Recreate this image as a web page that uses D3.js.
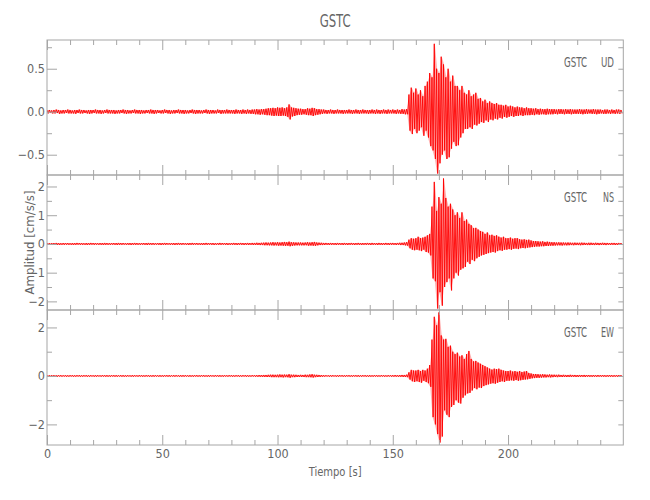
<!DOCTYPE html>
<html><head><meta charset="utf-8">
<script src="https://cdn.jsdelivr.net/npm/d3@7"></script>
<style>
body{margin:0;background:#fff}
text{font-family:'Liberation Sans Narrow','DejaVu Sans Condensed','Roboto Condensed','Liberation Sans',sans-serif;fill:#666}
</style>
</head><body>
<svg id="c" width="650" height="500"></svg>
<script>
// ---------------- data ----------------
const station = "GSTC";
const components = ["UD", "NS", "EW"];
const timeRange = [0, 250];
const dt = 1;                       // seconds per envelope bin
const xMajorTicks = [0, 50, 100, 150, 200];
const udRange = [-0.736, 0.834], nsRange = [-2.3, 2.4], ewRange = [-2.85, 2.72];
const udTicks = [-0.5, 0, 0.5], nsTicks = [-2, -1, 0, 1, 2], ewTicks = [-2, 0, 2];
const udMinorStep = 0.25, nsMinorStep = 0.5, ewMinorStep = 1;

// upper / lower peaks per 1-s bin
const udHi = [
.02,.02,.015,.02,.025,.02,.015,.02,.02,.025,
.02,.015,.02,.02,.025,.02,.02,.015,.02,.02,
.02,.025,.02,.02,.015,.02,.025,.02,.02,.02,
.015,.02,.02,.025,.02,.02,.015,.02,.025,.02,
.02,.02,.015,.02,.02,.025,.02,.02,.02,.015,
.02,.025,.02,.02,.015,.02,.02,.025,.02,.02,
.02,.015,.02,.025,.02,.02,.02,.015,.02,.025,
.02,.02,.02,.015,.025,.02,.02,.02,.025,.02,
.02,.02,.025,.02,.02,.025,.02,.025,.02,.025,
.025,.03,.025,.03,.03,.035,.04,.04,.045,.04,
.05,.045,.05,.04,.05,.085,.05,.045,.04,.035,
.035,.03,.03,.04,.035,.045,.04,.03,.03,.025,
.025,.02,.02,.025,.02,.02,.025,.02,.02,.02,
.02,.025,.02,.02,.025,.02,.02,.025,.02,.02,
.02,.025,.02,.025,.02,.02,.025,.02,.025,.02,
.025,.02,.025,.02,.03,.025,.03,.2,.28,.22,
.27,.2,.25,.18,.3,.35,.45,.4,.79,.5,
.45,.64,.55,.4,.5,.35,.42,.3,.3,.25,
.3,.22,.2,.25,.18,.2,.22,.15,.16,.12,
.14,.1,.12,.1,.09,.1,.08,.08,.07,.08,
.06,.07,.06,.05,.06,.05,.05,.04,.05,.04,
.04,.035,.04,.03,.035,.03,.03,.035,.03,.03,
.03,.025,.03,.03,.025,.03,.025,.03,.025,.025,
.025,.03,.025,.025,.03,.025,.025,.03,.025,.025,
.025,.02,.025,.025,.02,.025,.02,.025,.025,.02];
const udLo = [
-.02,-.015,-.02,-.02,-.015,-.025,-.02,-.02,-.015,-.02,
-.02,-.02,-.025,-.015,-.02,-.02,-.015,-.02,-.025,-.02,
-.015,-.02,-.02,-.025,-.02,-.015,-.02,-.02,-.02,-.025,
-.02,-.02,-.015,-.02,-.025,-.02,-.02,-.015,-.02,-.02,
-.025,-.02,-.02,-.015,-.02,-.02,-.025,-.02,-.015,-.02,
-.02,-.015,-.02,-.025,-.02,-.02,-.015,-.02,-.02,-.025,
-.02,-.02,-.015,-.02,-.025,-.02,-.02,-.02,-.015,-.02,
-.025,-.02,-.02,-.02,-.015,-.025,-.02,-.02,-.02,-.02,
-.02,-.025,-.02,-.02,-.025,-.02,-.025,-.02,-.025,-.025,
-.03,-.03,-.035,-.03,-.035,-.04,-.04,-.045,-.05,-.045,
-.05,-.05,-.045,-.05,-.06,-.09,-.055,-.05,-.04,-.035,
-.035,-.03,-.035,-.04,-.04,-.05,-.04,-.035,-.03,-.025,
-.02,-.025,-.02,-.02,-.025,-.02,-.02,-.02,-.025,-.02,
-.02,-.02,-.025,-.02,-.02,-.025,-.02,-.02,-.02,-.025,
-.02,-.02,-.025,-.02,-.025,-.02,-.02,-.025,-.02,-.02,
-.02,-.025,-.02,-.025,-.025,-.03,-.03,-.22,-.26,-.2,
-.25,-.22,-.18,-.28,-.22,-.3,-.4,-.45,-.55,-.72,
-.6,-.5,-.45,-.55,-.53,-.43,-.35,-.4,-.39,-.3,
-.25,-.2,-.2,-.18,-.2,-.15,-.16,-.14,-.12,-.13,
-.1,-.12,-.09,-.1,-.08,-.09,-.07,-.08,-.06,-.07,
-.06,-.05,-.06,-.05,-.05,-.04,-.05,-.04,-.04,-.04,
-.035,-.04,-.03,-.035,-.03,-.03,-.035,-.03,-.03,-.03,
-.025,-.03,-.025,-.025,-.03,-.025,-.025,-.03,-.025,-.025,
-.025,-.025,-.03,-.025,-.025,-.02,-.025,-.025,-.03,-.025,
-.02,-.025,-.025,-.02,-.025,-.02,-.025,-.02,-.025,-.02];
const nsHi = [
.03,.025,.03,.03,.035,.03,.025,.03,.03,.03,
.025,.03,.03,.035,.03,.03,.025,.03,.03,.035,
.03,.03,.025,.03,.03,.035,.03,.025,.03,.03,
.03,.035,.03,.03,.025,.03,.03,.03,.035,.03,
.025,.03,.03,.03,.035,.03,.03,.025,.03,.03,
.03,.035,.03,.025,.03,.03,.03,.035,.03,.03,
.025,.03,.03,.035,.03,.03,.025,.03,.03,.035,
.03,.03,.03,.025,.03,.035,.03,.03,.03,.025,
.03,.035,.03,.03,.035,.03,.03,.035,.03,.035,
.035,.04,.035,.04,.045,.05,.045,.05,.06,.05,
.06,.05,.06,.07,.06,.08,.06,.055,.05,.05,
.05,.045,.05,.06,.05,.06,.07,.05,.045,.04,
.035,.035,.03,.035,.03,.03,.035,.03,.03,.035,
.03,.03,.035,.03,.03,.035,.03,.03,.03,.035,
.03,.035,.03,.03,.035,.03,.03,.035,.03,.035,
.035,.03,.035,.04,.04,.05,.06,.15,.2,.18,
.2,.25,.2,.22,.25,.3,.35,1.3,2.16,1.15,
1.63,1.4,2.28,1.6,1.3,1.4,1.2,1.0,1.1,.9,
1.1,.8,.85,.7,.65,.55,.56,.5,.45,.42,
.35,.4,.3,.32,.28,.3,.25,.22,.25,.2,
.2,.22,.18,.2,.2,.16,.15,.16,.14,.15,
.12,.1,.1,.09,.08,.09,.07,.08,.07,.06,
.06,.05,.055,.05,.05,.045,.05,.045,.04,.045,
.04,.04,.045,.04,.035,.04,.04,.035,.04,.035,
.035,.04,.035,.035,.03,.035,.035,.03,.035,.03];
const nsLo = [
-.03,-.03,-.025,-.03,-.03,-.035,-.03,-.03,-.025,-.03,
-.03,-.035,-.03,-.025,-.03,-.03,-.03,-.035,-.03,-.025,
-.03,-.025,-.03,-.03,-.035,-.03,-.03,-.03,-.025,-.03,
-.035,-.03,-.03,-.025,-.03,-.03,-.035,-.03,-.03,-.03,
-.03,-.025,-.03,-.035,-.03,-.03,-.03,-.025,-.03,-.035,
-.03,-.03,-.025,-.03,-.03,-.035,-.03,-.03,-.03,-.025,
-.03,-.035,-.03,-.03,-.025,-.03,-.03,-.035,-.03,-.03,
-.025,-.03,-.035,-.03,-.03,-.03,-.025,-.03,-.035,-.03,
-.03,-.03,-.035,-.03,-.03,-.035,-.03,-.035,-.03,-.035,
-.035,-.035,-.04,-.04,-.045,-.045,-.05,-.05,-.055,-.05,
-.06,-.055,-.06,-.065,-.06,-.08,-.065,-.055,-.05,-.05,
-.05,-.05,-.045,-.06,-.055,-.06,-.065,-.05,-.04,-.04,
-.035,-.03,-.035,-.03,-.03,-.035,-.03,-.03,-.035,-.03,
-.035,-.03,-.03,-.035,-.03,-.03,-.035,-.03,-.03,-.03,
-.035,-.03,-.03,-.035,-.03,-.035,-.03,-.03,-.035,-.03,
-.03,-.035,-.03,-.04,-.04,-.05,-.06,-.15,-.2,-.22,
-.2,-.22,-.25,-.2,-.28,-.3,-.4,-1.2,-1.3,-2.25,
-1.68,-2.15,-1.5,-1.33,-1.2,-1.62,-1.2,-1.0,-1.1,-.9,
-.85,-.8,-.62,-.7,-.55,-.6,-.5,-.45,-.4,-.38,
-.35,-.32,-.3,-.28,-.3,-.25,-.22,-.24,-.2,-.2,
-.18,-.2,-.17,-.16,-.18,-.15,-.14,-.15,-.13,-.12,
-.11,-.1,-.09,-.09,-.08,-.08,-.07,-.07,-.06,-.06,
-.055,-.05,-.05,-.055,-.045,-.05,-.045,-.04,-.045,-.04,
-.04,-.045,-.04,-.035,-.04,-.04,-.035,-.04,-.035,-.04,
-.035,-.035,-.04,-.03,-.035,-.03,-.035,-.035,-.03,-.035];
const ewHi = [
.03,.025,.03,.03,.025,.03,.03,.025,.03,.025,
.03,.03,.025,.03,.03,.025,.03,.03,.025,.03,
.025,.03,.03,.025,.03,.03,.03,.025,.03,.03,
.03,.025,.03,.03,.025,.03,.025,.03,.03,.025,
.03,.03,.025,.03,.03,.025,.03,.03,.025,.03,
.025,.03,.03,.03,.025,.03,.03,.025,.03,.03,
.03,.025,.03,.025,.03,.03,.025,.03,.03,.025,
.03,.03,.025,.03,.03,.03,.025,.03,.025,.03,
.03,.025,.03,.03,.025,.03,.03,.03,.025,.03,
.03,.03,.035,.035,.04,.04,.045,.05,.05,.045,
.05,.06,.05,.055,.05,.07,.05,.05,.045,.04,
.045,.04,.05,.045,.06,.07,.05,.045,.04,.035,
.03,.03,.025,.03,.03,.025,.03,.03,.03,.025,
.03,.03,.025,.03,.03,.03,.025,.03,.03,.025,
.03,.025,.03,.03,.025,.03,.03,.025,.03,.03,
.03,.035,.03,.035,.04,.04,.05,.15,.25,.22,
.22,.25,.2,.25,.22,.3,.45,1.5,2.44,2.09,
2.62,1.67,1.5,1.53,1.2,1.25,1.0,.9,.96,.8,
.85,.7,.9,1.03,.7,.6,.62,.55,.5,.45,
.4,.35,.3,.26,.3,.28,.3,.25,.22,.2,
.2,.22,.18,.2,.17,.2,.16,.18,.2,.12,
.1,.08,.08,.07,.06,.07,.06,.05,.06,.05,
.05,.045,.05,.04,.045,.04,.04,.045,.04,.04,
.035,.04,.035,.04,.035,.035,.03,.035,.03,.035,
.03,.035,.03,.03,.035,.03,.03,.03,.035,.03];
const ewLo = [
-.03,-.03,-.025,-.03,-.03,-.025,-.03,-.025,-.03,-.03,
-.025,-.03,-.03,-.025,-.03,-.03,-.025,-.03,-.03,-.025,
-.03,-.03,-.025,-.03,-.025,-.03,-.03,-.03,-.025,-.03,
-.03,-.025,-.03,-.03,-.03,-.025,-.03,-.03,-.025,-.03,
-.025,-.03,-.03,-.025,-.03,-.03,-.03,-.025,-.03,-.03,
-.03,-.025,-.03,-.03,-.025,-.03,-.025,-.03,-.03,-.03,
-.025,-.03,-.03,-.03,-.025,-.03,-.03,-.025,-.03,-.03,
-.03,-.025,-.03,-.025,-.03,-.03,-.03,-.025,-.03,-.025,
-.03,-.03,-.025,-.03,-.03,-.025,-.03,-.03,-.03,-.025,
-.03,-.035,-.035,-.04,-.04,-.045,-.045,-.05,-.05,-.05,
-.055,-.05,-.06,-.05,-.055,-.075,-.05,-.05,-.045,-.045,
-.04,-.045,-.05,-.05,-.055,-.065,-.05,-.045,-.04,-.035,
-.03,-.025,-.03,-.03,-.025,-.03,-.03,-.025,-.03,-.03,
-.025,-.03,-.03,-.025,-.03,-.03,-.03,-.025,-.03,-.03,
-.03,-.03,-.025,-.03,-.03,-.025,-.03,-.03,-.025,-.03,
-.03,-.03,-.035,-.035,-.04,-.045,-.05,-.15,-.22,-.25,
-.22,-.25,-.28,-.2,-.25,-.3,-.45,-1.7,-2.0,-2.4,
-2.75,-2.5,-1.42,-1.6,-1.7,-1.28,-1.2,-1.0,-1.1,-1.14,
-.9,-.8,-.72,-.7,-.6,-.5,-.55,-.48,-.5,-.42,
-.38,-.35,-.32,-.3,-.32,-.28,-.25,-.22,-.25,-.2,
-.2,-.18,-.2,-.17,-.2,-.18,-.16,-.15,-.14,-.12,
-.1,-.09,-.08,-.08,-.07,-.06,-.06,-.05,-.06,-.05,
-.045,-.05,-.04,-.045,-.04,-.045,-.04,-.04,-.035,-.04,
-.04,-.035,-.035,-.04,-.03,-.035,-.035,-.03,-.035,-.03,
-.03,-.03,-.035,-.03,-.03,-.035,-.03,-.03,-.03,-.03];

// ---------------- drawing ----------------
const svg = d3.select("#c");
const pL = 47, pR = 623.3, pT = 40, ph = 135;
const frameColor = "#a6a6a6";
const x = d3.scaleLinear().domain(timeRange).range([pL, pR]);
const xMinor = d3.range(timeRange[0], timeRange[1] + 1, 10).filter(v => v % 50 !== 0);

const panels = [
  {comp: components[0], hi: udHi, lo: udLo, range: udRange, ticks: udTicks, step: udMinorStep, fmt: d3.format(".1f")},
  {comp: components[1], hi: nsHi, lo: nsLo, range: nsRange, ticks: nsTicks, step: nsMinorStep, fmt: d3.format("d")},
  {comp: components[2], hi: ewHi, lo: ewLo, range: ewRange, ticks: ewTicks, step: ewMinorStep, fmt: d3.format("d")}
];

function styleAxis(g) {
  g.select(".domain").remove();
  g.selectAll(".tick line").attr("stroke", frameColor).attr("stroke-width", 1);
  g.selectAll(".tick text").style("font-size", "12.5px").attr("fill", "#666");
}

panels.forEach((p, k) => {
  const y0 = pT + k * ph;
  const y = d3.scaleLinear().domain(p.range).range([y0 + ph, y0]);
  const id = "clip" + k;
  svg.append("clipPath").attr("id", id).append("rect")
    .attr("x", pL).attr("y", y0).attr("width", pR - pL).attr("height", ph);

  const g = svg.append("g").attr("clip-path", `url(#${id})`);
  // faint band between the peaks (dense oscillation look)
  const bins = p.hi.map((v, i) => ({t: i * dt, hi: v, lo: p.lo[i]}));
  g.append("path")
    .attr("d", d3.area().x(d => x(d.t + dt / 4)).y0(d => y(d.lo)).y1(d => y(d.hi))(bins))
    .attr("fill", "#ff0000").attr("fill-opacity", 0.3).attr("stroke", "none");
  // trace: alternate upper and lower peaks of each bin
  const pts = [];
  bins.forEach(b => { pts.push([b.t, b.hi]); pts.push([b.t + dt / 2, b.lo]); });
  g.append("path")
    .attr("d", d3.line().x(d => x(d[0])).y(d => y(d[1]))(pts))
    .attr("fill", "none").attr("stroke", "#ff0000").attr("stroke-width", 0.9);

  const lo = Math.ceil(p.range[0] / p.step) * p.step;
  const yMinor = d3.range(lo, p.range[1], p.step).filter(v => !p.ticks.some(t => Math.abs(t - v) < 1e-6));

  svg.append("g").attr("transform", `translate(${pL},0)`)
    .call(d3.axisLeft(y).tickValues(p.ticks).tickSize(-10).tickPadding(2).tickFormat(p.fmt)).call(styleAxis);
  svg.append("g").attr("transform", `translate(${pL},0)`)
    .call(d3.axisLeft(y).tickValues(yMinor).tickSize(-5).tickFormat("")).call(styleAxis);
  svg.append("g").attr("transform", `translate(${pR},0)`)
    .call(d3.axisRight(y).tickValues(p.ticks.concat(yMinor)).tickSize(-5).tickFormat("")).call(styleAxis);
  svg.append("g").attr("transform", `translate(0,${y0})`)
    .call(d3.axisTop(x).tickValues(xMajorTicks).tickSize(-10).tickFormat("")).call(styleAxis);
  svg.append("g").attr("transform", `translate(0,${y0})`)
    .call(d3.axisTop(x).tickValues(xMinor).tickSize(-5).tickFormat("")).call(styleAxis);
  const last = k === panels.length - 1;
  svg.append("g").attr("transform", `translate(0,${y0 + ph})`)
    .call(d3.axisBottom(x).tickValues(xMajorTicks).tickSize(-10).tickPadding(4).tickFormat(last ? d3.format("d") : "")).call(styleAxis);
  svg.append("g").attr("transform", `translate(0,${y0 + ph})`)
    .call(d3.axisBottom(x).tickValues(xMinor).tickSize(-5).tickFormat("")).call(styleAxis);

  svg.append("rect").attr("x", pL).attr("y", y0).attr("width", pR - pL).attr("height", ph)
    .attr("fill", "none").attr("stroke", frameColor).attr("stroke-width", 1);

  svg.append("text").attr("x", 587).attr("y", y0 + 27).attr("text-anchor", "end")
    .style("font-size", "14px").attr("textLength", 23).attr("lengthAdjust", "spacingAndGlyphs").text(station);
  svg.append("text").attr("x", 614).attr("y", y0 + 27).attr("text-anchor", "end")
    .style("font-size", "14px").attr("textLength", p.comp === "NS" ? 11 : 13).attr("lengthAdjust", "spacingAndGlyphs").text(p.comp);
});

svg.append("text").attr("x", (pL + pR) / 2).attr("y", 27).attr("text-anchor", "middle")
  .style("font-size", "18px").attr("textLength", 31).attr("lengthAdjust", "spacingAndGlyphs").text(station);
svg.append("text").attr("x", (pL + pR) / 2).attr("y", 476).attr("text-anchor", "middle")
  .style("font-size", "12.5px").attr("textLength", 53).attr("lengthAdjust", "spacingAndGlyphs").text("Tiempo [s]");
svg.append("text").attr("transform", `translate(34,${pT + 1.5 * ph}) rotate(-90)`).attr("text-anchor", "middle")
  .style("font-size", "12.5px").attr("textLength", 104).attr("lengthAdjust", "spacingAndGlyphs").text("Amplitud [cm/s/s]");
</script>
</body></html>
